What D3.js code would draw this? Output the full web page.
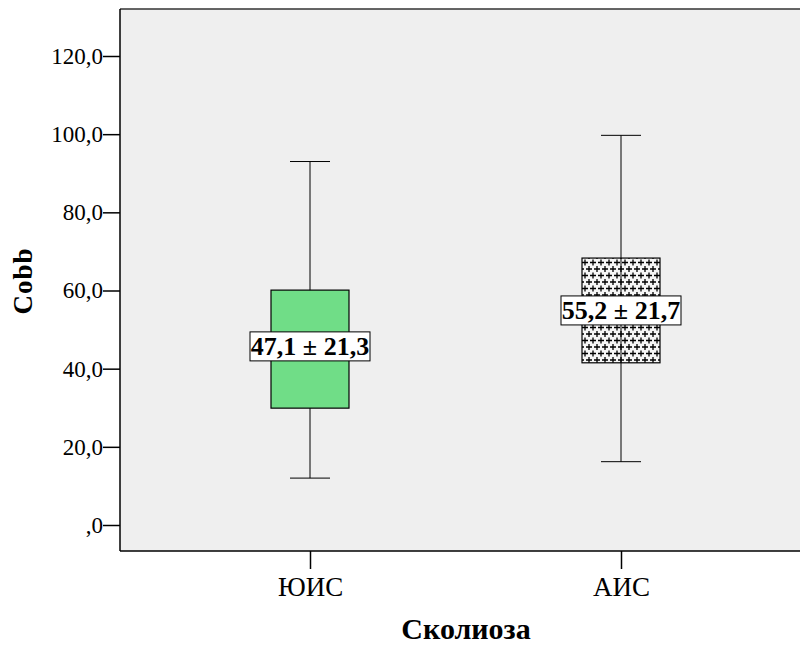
<!DOCTYPE html>
<html>
<head>
<meta charset="utf-8">
<script src="https://cdn.jsdelivr.net/npm/d3@7"></script>
<style>
  body { margin: 0; background: #fff; }
</style>
</head>
<body>
<main></main>
<script>
// data
const groups = ["ЮИС", "АИС"];
const whiskLow = [12.0, 16.2];
const q1 = [29.9, 41.5];
const q3 = [60.1, 68.3];
const whiskHigh = [93.0, 99.7];
const labelPos = [45.7, 54.9];
const labels = ["47,1 ± 21,3", "55,2 ± 21,7"];
const yTicks = [0, 20, 40, 60, 80, 100, 120];

const w = 800, h = 646;
const plotL = 120, plotT = 9, plotB = 551, plotR = 801;
const serif = "'Liberation Serif', 'Times New Roman', serif";

const svg = d3.select("main").append("svg")
  .attr("width", w)
  .attr("height", h)
  .style("display", "block");

// cross hatch pattern for second box
const defs = svg.append("defs");
const pat = defs.append("pattern")
  .attr("id", "cross")
  .attr("patternUnits", "userSpaceOnUse")
  .attr("x", 582)
  .attr("y", 259)
  .attr("width", 8)
  .attr("height", 13);
pat.append("rect").attr("width", 8).attr("height", 13).attr("fill", "#f6f6f6");
[[3, 3.5], [7, 10]].forEach(([cx, cy]) => {
  pat.append("path")
    .attr("d", `M${cx - 3},${cy}H${cx + 3}M${cx},${cy - 3}V${cy + 3}`)
    .attr("stroke", "#000")
    .attr("stroke-width", 1.3);
});
// wrap-around half of the offset plus
pat.append("path")
  .attr("d", "M-1,10H2")
  .attr("stroke", "#000")
  .attr("stroke-width", 1.3);

const yScale = d3.scaleLinear()
  .domain([0, 120])
  .range([525, 56]);

const xScale = d3.scalePoint()
  .domain(groups)
  .range([310, 621]);

// plot background
svg.append("rect")
  .attr("x", plotL)
  .attr("y", plotT)
  .attr("width", plotR - plotL)
  .attr("height", plotB - plotT)
  .attr("fill", "#efefef");

svg.append("line")
  .attr("x1", plotL).attr("x2", plotR)
  .attr("y1", plotT).attr("y2", plotT)
  .attr("stroke", "#333").attr("stroke-width", 1.5);

// Y axis
const yAxis = d3.axisLeft(yScale)
  .tickValues(yTicks)
  .tickSize(17)
  .tickPadding(0)
  .tickFormat(d => d === 0 ? ",0" : d3.format(".1f")(d).replace(".", ","));
const gy = svg.append("g")
  .attr("transform", "translate(" + plotL + ",0)")
  .call(yAxis)
  .attr("font-family", null);
gy.select(".domain").attr("d", `M0,${plotT}V${plotB}`).attr("stroke", "#000").attr("stroke-width", 1.5);
gy.selectAll(".tick line").attr("stroke", "#000").attr("stroke-width", 1.5);
gy.selectAll(".tick text")
  .style("font-family", serif)
  .style("font-size", "23px")
  .attr("fill", "#000");

// X axis
const xAxis = d3.axisBottom(xScale).tickSize(18).tickPadding(8);
const gx = svg.append("g")
  .attr("transform", "translate(0," + plotB + ")")
  .call(xAxis)
  .attr("font-family", null);
gx.select(".domain").attr("d", `M${plotL},0H${plotR}`).attr("stroke", "#000").attr("stroke-width", 1.5);
gx.selectAll(".tick line").attr("stroke", "#000").attr("stroke-width", 1.5);
gx.selectAll(".tick text")
  .style("font-family", serif)
  .style("font-size", "27px")
  .attr("fill", "#000");

// boxes
const boxW = 78, capW = 40;
const fills = ["#70dd87", "url(#cross)"];

groups.forEach((g, i) => {
  const cx = xScale(g);
  const bx = svg.append("g");
  bx.append("line")
    .attr("x1", cx).attr("x2", cx)
    .attr("y1", yScale(whiskHigh[i])).attr("y2", yScale(whiskLow[i]))
    .attr("stroke", "#000").attr("stroke-width", 1);
  [whiskLow[i], whiskHigh[i]].forEach(v => {
    bx.append("line")
      .attr("x1", cx - capW / 2).attr("x2", cx + capW / 2)
      .attr("y1", yScale(v)).attr("y2", yScale(v))
      .attr("stroke", "#000").attr("stroke-width", 1);
  });
  bx.append("rect")
    .attr("x", cx - boxW / 2)
    .attr("y", yScale(q3[i]))
    .attr("width", boxW)
    .attr("height", yScale(q1[i]) - yScale(q3[i]))
    .attr("fill", fills[i])
    .attr("stroke", "#000").attr("stroke-width", 1.2);
  bx.append("line")
    .attr("x1", cx).attr("x2", cx)
    .attr("y1", yScale(q3[i])).attr("y2", yScale(q1[i]))
    .attr("stroke", i === 1 ? "#000" : "none").attr("stroke-width", 1);

  // value label
  const ly = yScale(labelPos[i]);
  const lbl = bx.append("g");
  lbl.append("rect")
    .attr("x", cx - 60).attr("y", ly - 14.5)
    .attr("width", 120).attr("height", 29)
    .attr("fill", "#fff").attr("stroke", "#000").attr("stroke-width", 1);
  lbl.append("text")
    .attr("x", cx).attr("y", ly + 9)
    .attr("text-anchor", "middle")
    .style("font-family", serif)
    .style("font-size", "26px")
    .style("font-weight", "bold")
    .text(labels[i]);
});

// axis titles
svg.append("text")
  .attr("transform", "translate(32,281) rotate(-90)")
  .attr("text-anchor", "middle")
  .style("font-family", serif)
  .style("font-size", "27px")
  .style("font-weight", "bold")
  .style("letter-spacing", "1px")
  .text("Cobb");

svg.append("text")
  .attr("x", 466)
  .attr("y", 639)
  .attr("text-anchor", "middle")
  .style("font-family", serif)
  .style("font-size", "30px")
  .style("font-weight", "bold")
  .text("Сколиоза");
</script>
</body>
</html>
